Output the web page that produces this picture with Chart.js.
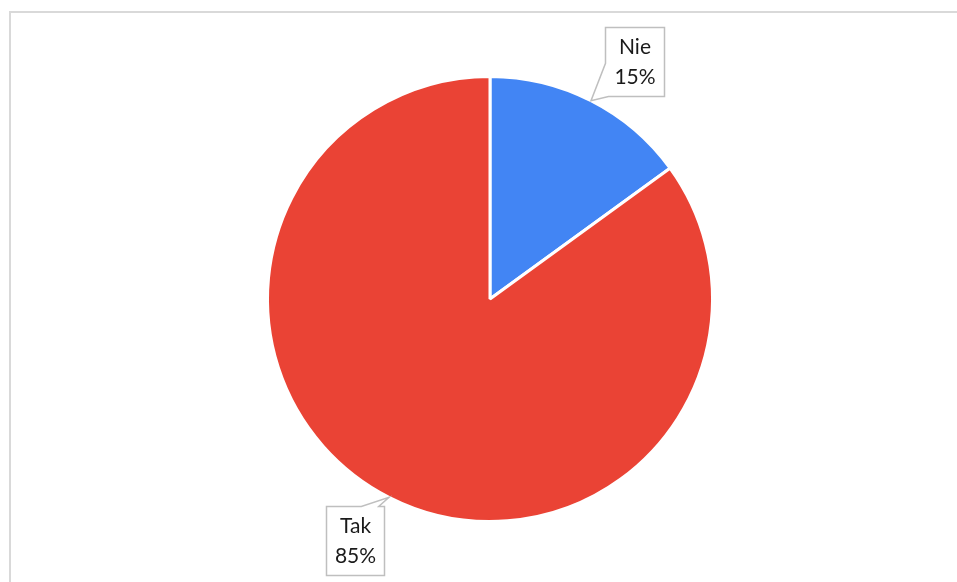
<!DOCTYPE html>
<html>
<head>
<meta charset="utf-8">
<script src="https://cdn.jsdelivr.net/npm/chart.js@4.4.1/dist/chart.umd.min.js"></script>
<style>
  html, body { margin: 0; padding: 0; background: #fff; }
  #wrap { position: relative; width: 957px; height: 582px; }
</style>
</head>
<body>
<div id="wrap"><canvas id="pieChart" width="957" height="582"></canvas></div>
<script>
'use strict';

const answers = ["Nie", "Tak"];
const shares = [15, 85];
const sliceColors = ["#4285F4", "#EA4335"];

// callout box placement relative to the slice's outer mid point
const callouts = [
    { dx: 14, dy: -74, w: 59, h: 69, tail: "left" },
    { dx: -63, dy: 9, w: 58, h: 69, tail: "top" },
];

const framePlugin = {
    id: "frame",
    beforeDraw(chart) {
        const c = chart.ctx;
        c.save();
        c.fillStyle = "#fff";
        c.fillRect(0, 0, chart.width, chart.height);
        c.strokeStyle = "#d9d9d9";
        c.lineWidth = 2;
        c.beginPath();
        c.moveTo(10, chart.height);
        c.lineTo(10, 12);
        c.lineTo(chart.width, 12);
        c.stroke();
        c.restore();
    },
};

const calloutPlugin = {
    id: "callouts",
    afterDatasetsDraw(chart) {
        const c = chart.ctx;
        const meta = chart.getDatasetMeta(0);
        const total = shares.reduce((a, b) => a + b, 0);
        meta.data.forEach((arc, i) => {
            const { x, y, startAngle, endAngle, outerRadius } = arc.getProps(
                ["x", "y", "startAngle", "endAngle", "outerRadius"], true);
            const mid = (startAngle + endAngle) / 2;
            const tipX = x + Math.cos(mid) * outerRadius;
            const tipY = y + Math.sin(mid) * outerRadius;
            const cfg = callouts[i];
            const bx = Math.round(tipX + cfg.dx) + 0.5;
            const by = Math.round(tipY + cfg.dy) + 0.5;
            const bw = cfg.w, bh = cfg.h;

            c.save();
            c.beginPath();
            c.moveTo(bx, by);
            if (cfg.tail === "top") {
                c.lineTo(bx + bw * 0.6, by);
                c.lineTo(tipX, tipY);
                c.lineTo(bx + bw * 0.9, by);
                c.lineTo(bx + bw, by);
                c.lineTo(bx + bw, by + bh);
                c.lineTo(bx, by + bh);
            } else {
                c.lineTo(bx + bw, by);
                c.lineTo(bx + bw, by + bh);
                c.lineTo(bx + 3, by + bh);
                c.lineTo(tipX, tipY);
                c.lineTo(bx, by + bh * 0.52);
            }
            c.closePath();
            c.fillStyle = "#fff";
            c.fill();
            c.strokeStyle = "#bfbfbf";
            c.lineWidth = 1.5;
            c.stroke();

            c.fillStyle = "#1a1a1a";
            c.font = "21px Lato, 'Open Sans', sans-serif";
            c.textAlign = "center";
            c.textBaseline = "middle";
            const pct = Math.round(shares[i] / total * 100) + "%";
            c.fillText(chart.data.labels[i], bx + bw / 2, by + 20);
            c.fillText(pct, bx + bw / 2, by + 50);
            c.restore();
        });
    },
};

const ctx = document.getElementById("pieChart").getContext("2d");

const pieChart = new Chart(ctx, {
    type: "pie",
    data: {
        labels: answers,
        datasets: [
            {
                data: shares,
                backgroundColor: sliceColors,
                borderColor: "#ffffff",
                borderWidth: 3,
                hoverOffset: 0,
            },
        ],
    },
    options: {
        responsive: false,
        animation: false,
        layout: {
            padding: { top: 75, bottom: 59, left: 23, right: 0 },
        },
        plugins: {
            legend: { display: false },
            tooltip: { enabled: false },
        },
    },
    plugins: [framePlugin, calloutPlugin],
});
</script>
</body>
</html>
